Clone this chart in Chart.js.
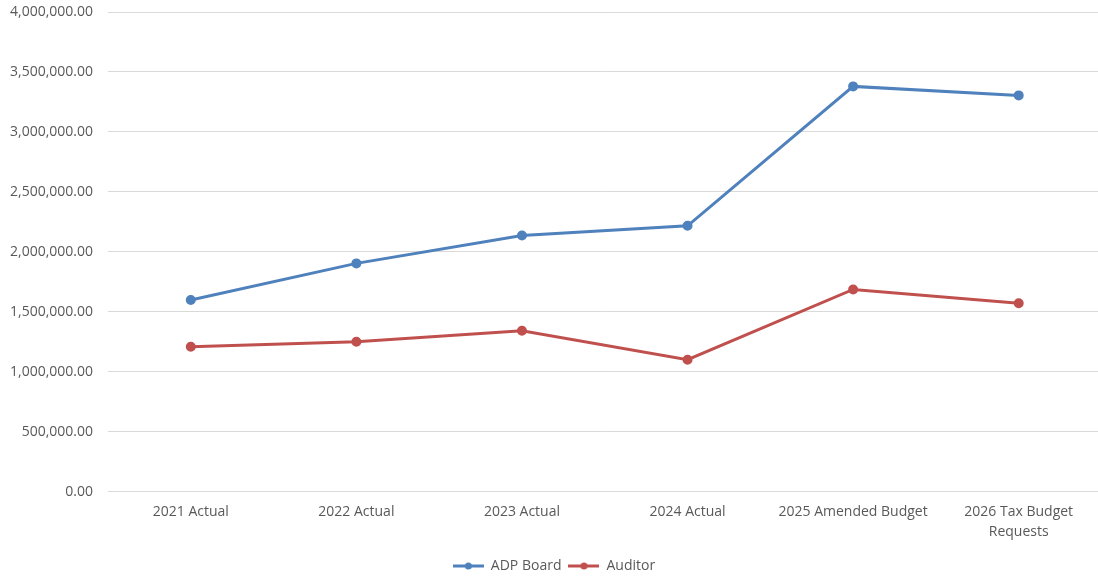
<!DOCTYPE html>
<html>
<head>
<meta charset="utf-8">
<script src="https://cdn.jsdelivr.net/npm/chart.js@4"></script>
<style>
  html, body { margin: 0; padding: 0; background: #fff; overflow: hidden; }
  #wrap { width: 1108px; height: 584px; }
</style>
</head>
<body>
<div id="wrap"><canvas id="chart" width="1108" height="584"></canvas></div>
<script>
const categories = [
  "2021 Actual",
  "2022 Actual",
  "2023 Actual",
  "2024 Actual",
  "2025 Amended Budget",
  ["2026 Tax Budget", "Requests"],
];
const adpBoard = [1600000, 1905000, 2137000, 2218000, 3380000, 3305000];
const auditor = [1210000, 1252000, 1344000, 1102000, 1688000, 1572000];
const yTicks = { min: 0, max: 4000000, step: 500000 };

const BLUE = "#4f81bd";
const RED = "#c0504d";

// little line-with-dot swatch for the legend
function legendSwatch(color) {
  const c = document.createElement("canvas");
  c.width = 31;
  c.height = 10;
  const g = c.getContext("2d");
  g.strokeStyle = color;
  g.lineWidth = 3;
  g.beginPath();
  g.moveTo(0, 5);
  g.lineTo(31, 5);
  g.stroke();
  g.fillStyle = color;
  g.beginPath();
  g.arc(15.5, 5, 3.5, 0, Math.PI * 2);
  g.fill();
  return c;
}

Chart.defaults.font.family = "'Open Sans', 'DejaVu Sans', sans-serif";
Chart.defaults.font.size = 14;
Chart.defaults.color = "#595959";

const ctx = document.getElementById("chart").getContext("2d");
new Chart(ctx, {
  type: "line",
  data: {
    labels: categories,
    datasets: [
      {
        label: "ADP Board",
        data: adpBoard,
        borderColor: BLUE,
        backgroundColor: BLUE,
        borderWidth: 3,
        pointRadius: 3.5,
        pointHoverRadius: 3.5,
        fill: false,
        tension: 0,
      },
      {
        label: "Auditor",
        data: auditor,
        borderColor: RED,
        backgroundColor: RED,
        borderWidth: 3,
        pointRadius: 3.5,
        pointHoverRadius: 3.5,
        fill: false,
        tension: 0,
      },
    ],
  },
  options: {
    responsive: false,
    animation: false,
    layout: { padding: { top: 12, left: 0, right: 0, bottom: 1 } },
    plugins: {
      tooltip: { enabled: false },
      legend: {
        position: "bottom",
        labels: {
          usePointStyle: true,
          pointStyleWidth: 31,
          padding: 7,
          font: { size: 14 },
          generateLabels: (chart) =>
            chart.data.datasets.map((ds, i) => ({
              text: ds.label,
              pointStyle: legendSwatch(ds.borderColor),
              fillStyle: ds.borderColor,
              strokeStyle: ds.borderColor,
              lineWidth: 0,
              fontColor: "#595959",
              datasetIndex: i,
            })),
        },
      },
    },
    scales: {
      x: {
        offset: true,
        grid: { display: false, drawTicks: false },
        border: { color: "#d9d9d9", width: 1 },
        ticks: {
          padding: 10,
          maxRotation: 0,
          autoSkip: false,
          font: { size: 14, lineHeight: 1.43 },
        },
      },
      y: {
        min: yTicks.min,
        max: yTicks.max,
        afterFit: (scale) => {
          scale.width = 108;
          scale.paddingTop = 0;
          scale.paddingBottom = 0;
        },
        grid: { color: "#d9d9d9", drawTicks: false },
        border: { display: false },
        ticks: {
          stepSize: yTicks.step,
          padding: 15,
          callback: (v) =>
            Number(v).toLocaleString("en-US", {
              minimumFractionDigits: 2,
              maximumFractionDigits: 2,
            }),
        },
      },
    },
  },
});
</script>
</body>
</html>
